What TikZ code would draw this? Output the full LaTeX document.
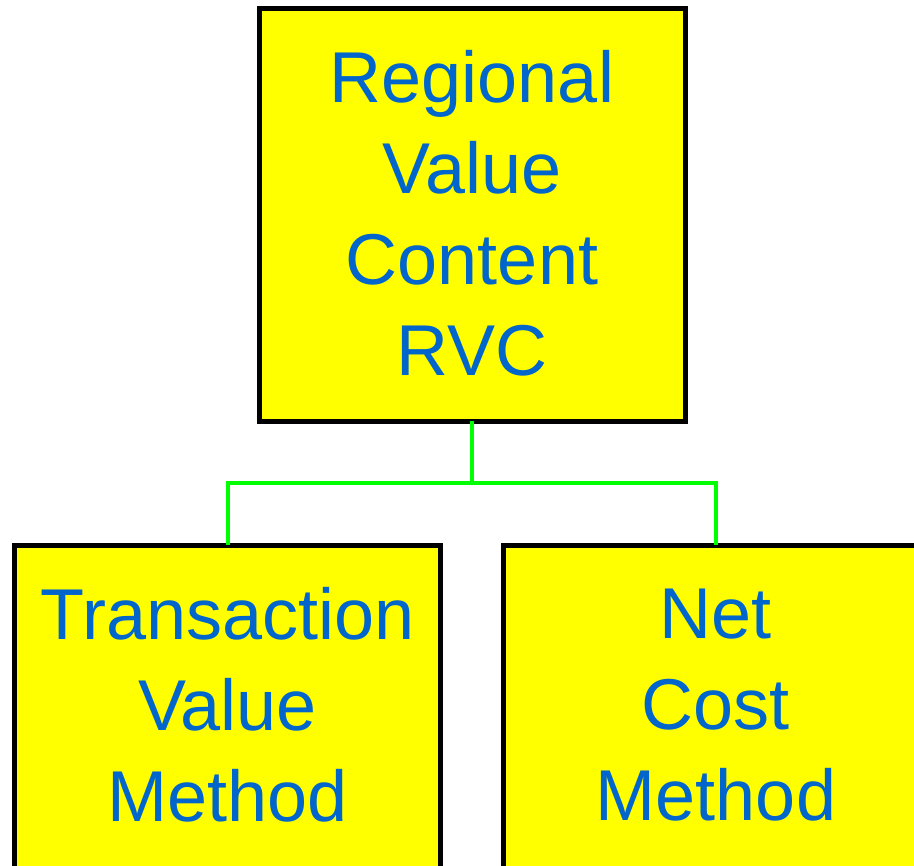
\documentclass[tikz,border=0pt]{standalone}
\usepackage{fontspec}
\setmainfont{Liberation Sans}
\definecolor{boxyellow}{RGB}{255,255,0}
\definecolor{txtblue}{RGB}{0,102,204}
\definecolor{linkgreen}{RGB}{0,255,0}
\begin{document}
\begin{tikzpicture}[x=1pt,y=-1pt,
  box/.style={draw=black, fill=boxyellow, line width=5pt, rectangle, outer sep=0pt, inner sep=0pt, minimum width=426pt},
  txt/.style={text=txtblue, align=center, inner sep=0pt, font=\fontsize{72}{91}\selectfont},
  link/.style={draw=linkgreen, line width=4pt}]
\useasboundingbox (0,0) rectangle (914,866);
\clip (0,0) rectangle (914,866);
\node[box, minimum height=413pt] (rvc) at (472,215) {};
\node[txt] (rvct) at (472,213) {Regional\\Value\\Content\\RVC};
\node[box, minimum height=335pt] (tv) at (227.5,713) {};
\node[txt] (tvt) at (227.5,705) {Transaction\\Value\\Method};
\node[box, minimum height=335pt] (nc) at (716,713) {};
\node[txt] (nct) at (716,705) {Net\\Cost\\Method};
\coordinate (mid) at (472,483);
\draw[link] (rvc.south) -- (mid);
\draw[link] (mid) -| (tv.north);
\draw[link] (mid) -| (nc.north);
\end{tikzpicture}
\end{document}
